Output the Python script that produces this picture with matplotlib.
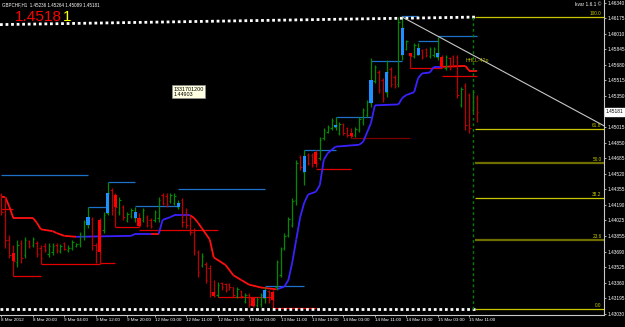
import matplotlib
matplotlib.use("Agg")
import matplotlib.pyplot as plt
from matplotlib.patches import Rectangle
from matplotlib import font_manager

# ---- data (GBPCHF H1, 8-15 Mar 2012) ----
opens = [1.4430, 1.4419, 1.4382, 1.4368, 1.4358, 1.4378, 1.4366, 1.4381, 1.4376, 1.4378,
         1.4373, 1.4375, 1.4367, 1.4369, 1.4376, 1.4370, 1.4378, 1.4371, 1.4373, 1.4375,
         1.4377, 1.4386, 1.4398, 1.4404, 1.4376, 1.4403, 1.4392, 1.4410, 1.4435, 1.4430,
         1.4411, 1.4417, 1.4403, 1.4407, 1.4405, 1.4405, 1.4403, 1.4406, 1.4403, 1.4403,
         1.4405, 1.4430, 1.4428, 1.4423, 1.4421, 1.4417, 1.4424, 1.4411, 1.4405, 1.4390,
         1.4369, 1.4355, 1.4356, 1.4352, 1.4326, 1.4323, 1.4336, 1.4335, 1.4335, 1.4331,
         1.4322, 1.4327, 1.4317, 1.4323, 1.4320, 1.4312, 1.4313, 1.4320, 1.4327, 1.4326,
         1.4331, 1.4344, 1.4373, 1.4387, 1.4398, 1.4424, 1.4470, 1.4454, 1.4472, 1.4472,
         1.4475, 1.4469, 1.4490, 1.4497, 1.4501, 1.4502, 1.4496, 1.4505, 1.4501, 1.4496,
         1.4493, 1.4499, 1.4507, 1.4515, 1.4528, 1.4551, 1.4560, 1.4552, 1.4539, 1.4564,
         1.4555, 1.4548, 1.4579, 1.4585, 1.4581, 1.4578, 1.4579, 1.4584, 1.4585, 1.4578,
         1.4579, 1.4577, 1.4577, 1.4565, 1.4575, 1.4578, 1.4577, 1.4525, 1.4546, 1.4536,
         1.4520, 1.4533]
highs = [1.4432, 1.4427, 1.4387, 1.4376, 1.4382, 1.4382, 1.4385, 1.4382, 1.4385, 1.4381,
         1.4376, 1.4378, 1.4378, 1.4378, 1.4378, 1.4377, 1.4379, 1.4376, 1.4382, 1.4378,
         1.4390, 1.4403, 1.4417, 1.4406, 1.4378, 1.4405, 1.4411, 1.4443, 1.4437, 1.4432,
         1.4427, 1.4419, 1.4411, 1.4416, 1.4417, 1.4410, 1.4416, 1.4408, 1.4405, 1.4414,
         1.4427, 1.4432, 1.4432, 1.4432, 1.4432, 1.4424, 1.4426, 1.4416, 1.4408, 1.4394,
         1.4371, 1.4368, 1.4358, 1.4355, 1.4339, 1.4337, 1.4337, 1.4336, 1.4336, 1.4332,
         1.4332, 1.4328, 1.4325, 1.4325, 1.4321, 1.4321, 1.4325, 1.4332, 1.4328, 1.4328,
         1.4360, 1.4374, 1.4389, 1.4406, 1.4426, 1.4467, 1.4472, 1.4477, 1.4474, 1.4474,
         1.4477, 1.4491, 1.4501, 1.4504, 1.4511, 1.4513, 1.4507, 1.4506, 1.4502, 1.4501,
         1.4502, 1.4513, 1.4522, 1.4531, 1.4575, 1.4568, 1.4563, 1.4554, 1.4573, 1.4566,
         1.4557, 1.4619, 1.4619, 1.4595, 1.4581, 1.4591, 1.4591, 1.4585, 1.4586, 1.4587,
         1.4587, 1.4598, 1.4579, 1.4579, 1.4577, 1.4579, 1.4579, 1.4545, 1.4549, 1.4538,
         1.4541, 1.4536]
lows = [1.4408, 1.4373, 1.4362, 1.4343, 1.4353, 1.4357, 1.4362, 1.4373, 1.4374, 1.4363,
        1.4356, 1.4369, 1.4363, 1.4366, 1.4368, 1.4368, 1.4371, 1.4369, 1.4371, 1.4374,
        1.4374, 1.4382, 1.4394, 1.4371, 1.4357, 1.4356, 1.4389, 1.4408, 1.4408, 1.4395,
        1.4408, 1.4403, 1.4401, 1.4405, 1.4401, 1.4395, 1.4401, 1.4395, 1.4394, 1.4401,
        1.4401, 1.4419, 1.4417, 1.4421, 1.4419, 1.4415, 1.4395, 1.4394, 1.4387, 1.4366,
        1.4342, 1.4353, 1.4336, 1.4321, 1.4321, 1.4321, 1.4328, 1.4326, 1.4328, 1.4321,
        1.4320, 1.4320, 1.4314, 1.4310, 1.4310, 1.4310, 1.4310, 1.4314, 1.4314, 1.4308,
        1.4328, 1.4342, 1.4371, 1.4385, 1.4395, 1.4419, 1.4456, 1.4440, 1.4461, 1.4459,
        1.4459, 1.4467, 1.4488, 1.4496, 1.4499, 1.4499, 1.4493, 1.4493, 1.4491, 1.4490,
        1.4491, 1.4497, 1.4504, 1.4513, 1.4523, 1.4549, 1.4538, 1.4529, 1.4534, 1.4545,
        1.4543, 1.4545, 1.4573, 1.4584, 1.4565, 1.4575, 1.4579, 1.4574, 1.4577, 1.4575,
        1.4577, 1.4573, 1.4565, 1.4563, 1.4563, 1.4566, 1.4533, 1.4523, 1.4499, 1.4496,
        1.4518, 1.4507]
closes = [1.4411, 1.4382, 1.4366, 1.4359, 1.4376, 1.4362, 1.4382, 1.4375, 1.4383, 1.4367,
          1.4362, 1.4371, 1.4375, 1.4375, 1.4371, 1.4375, 1.4372, 1.4373, 1.4379, 1.4377,
          1.4388, 1.4401, 1.4406, 1.4376, 1.4371, 1.4369, 1.4408, 1.4432, 1.4414, 1.4417,
          1.4424, 1.4406, 1.4409, 1.4414, 1.4411, 1.4396, 1.4414, 1.4398, 1.4396, 1.4411,
          1.4424, 1.4421, 1.4420, 1.4430, 1.4428, 1.4421, 1.4401, 1.4398, 1.4390, 1.4371,
          1.4347, 1.4365, 1.4339, 1.4326, 1.4322, 1.4334, 1.4331, 1.4328, 1.4331, 1.4323,
          1.4329, 1.4322, 1.4323, 1.4313, 1.4311, 1.4319, 1.4323, 1.4328, 1.4318, 1.4318,
          1.4358, 1.4372, 1.4386, 1.4404, 1.4423, 1.4464, 1.4459, 1.4471, 1.4464, 1.4461,
          1.4462, 1.4488, 1.4499, 1.4502, 1.4509, 1.4504, 1.4505, 1.4496, 1.4493, 1.4492,
          1.4500, 1.4510, 1.4520, 1.4529, 1.4552, 1.4566, 1.4541, 1.4533, 1.4560, 1.4548,
          1.4546, 1.4614, 1.4607, 1.4593, 1.4578, 1.4589, 1.4586, 1.4577, 1.4579, 1.4585,
          1.4585, 1.4581, 1.4566, 1.4577, 1.4565, 1.4568, 1.4536, 1.4542, 1.4504, 1.4501,
          1.4539, 1.4518]

# bars drawn as fat candle bodies
body_idx = [3, 22, 25, 27, 29, 34, 35, 45, 54, 64, 67, 69, 77, 80, 85, 89, 94, 98,
            102, 104, 106, 111, 112]

# trailing stop line, breakpoints (bar index, price), up = segment drawn blue
trail_x = [0, 1, 2, 3, 8, 9, 10, 13, 14, 16, 19, 33, 34, 38, 40, 41, 43, 44, 48,
           49, 50, 51, 53, 54, 57, 59, 61, 63, 66, 70, 72, 73, 74, 75, 76, 77, 78,
           80, 81, 82, 83, 85, 91, 92, 94, 95, 101, 102, 103, 105, 106, 107, 109,
           110, 112, 118, 119, 121]
trail_y = [1.4427, 1.4427, 1.4417, 1.4405, 1.4405, 1.4400, 1.4393, 1.4391, 1.4389,
           1.4386, 1.4385, 1.4386, 1.4388, 1.4388, 1.4388, 1.4403, 1.4406, 1.4408,
           1.4408, 1.4405, 1.4400, 1.4394, 1.4382, 1.4363, 1.4355, 1.4344, 1.4339,
           1.4334, 1.4331, 1.4329, 1.4332, 1.4339, 1.4358, 1.4382, 1.4406, 1.4421,
           1.4430, 1.4433, 1.4440, 1.4467, 1.4474, 1.4481, 1.4483, 1.4486, 1.4506,
           1.4525, 1.4526, 1.4533, 1.4536, 1.4539, 1.4554, 1.4559, 1.4560, 1.4566,
           1.4566, 1.4567, 1.4562, 1.4562]
trail_up = [0] * 10 + [1] * 3 + [0] + [1] * 4 + [0] * 11 + [1] * 25 + [0] * 3

# fractal levels
res_start = [0, 22, 27, 34, 45, 67, 77, 85, 94, 102, 106, 111]
res_end = [22, 27, 34, 45, 67, 77, 85, 94, 102, 106, 111, 121]
res_price = [1.4451, 1.4417, 1.4443, 1.4418, 1.4436, 1.4333, 1.4477, 1.4513,
             1.4572, 1.4620, 1.4594, 1.4599]
sup_start = [0, 3, 10, 25, 29, 35, 55, 69, 80, 89, 104, 112]
sup_end = [3, 10, 25, 29, 35, 55, 69, 80, 89, 104, 112, 121]
sup_price = [1.4415, 1.4343, 1.4356, 1.4357, 1.4395, 1.4392, 1.4321, 1.4309,
             1.4457, 1.4490, 1.4565, 1.4556]

fib_ratios = [100.0, 61.8, 50.0, 38.2, 23.6, 0.0]
fib_start = 120.5

# dotted range lines (upper one slopes slightly)
top_dot_x = [-0.38, 120.5]
top_dot_y = [1.4611, 1.4619]
low_dot_x = [-0.38, 120.5]
low_dot_y = [1.4308, 1.4308]

trend_x = [102, 137]
trend_y = [1.4619, 1.4540]

price_ticks = [1.46340, 1.46175, 1.46010, 1.45845, 1.45680, 1.45515, 1.45350,
               1.45015, 1.44850, 1.44685, 1.44520, 1.44355, 1.44190, 1.44025,
               1.43855, 1.43690, 1.43525, 1.43360, 1.43195, 1.43030]
time_idx = [0, 8, 16, 24, 32, 39, 47, 55, 63, 71, 79, 87, 95, 103, 111, 119]
time_labels = ["8 Mar 2012", "8 Mar 20:00", "9 Mar 04:00", "9 Mar 12:00",
               "9 Mar 20:00", "12 Mar 03:00", "12 Mar 11:00", "12 Mar 19:00",
               "13 Mar 03:00", "13 Mar 11:00", "13 Mar 19:00", "14 Mar 03:00",
               "14 Mar 11:00", "14 Mar 19:00", "15 Mar 03:00", "15 Mar 11:00"]
header = "GBPCHF,H1  1.45236 1.45264 1.45089 1.45181"
last_price = 1.45181
tip_lines = ["1331701200", "1.44903"]

# ---- style ----
names = {f.name for f in font_manager.fontManager.ttflist}
SMALL = 'Liberation Sans Narrow' if 'Liberation Sans Narrow' in names else 'Liberation Sans'
UP, DN = '#008a00', '#c00000'

fig = plt.figure(figsize=(6.25, 3.27), dpi=100, facecolor='black')
renderer = fig.canvas.get_renderer()


def fit(s, width_px, family=SMALL):
    # font size that makes string s about width_px pixels wide
    t = fig.text(0, 0, s, fontsize=10, family=family)
    w = t.get_window_extent(renderer=renderer).width
    t.remove()
    return 10 * width_px / w


FS_Y = fit("1.46340", 17)
FS_X = fit("8 Mar 20:00", 24)
FS_HEAD = fit(header, 98)
FS_FIB = fit("100.0", 12)
FS_TIP = fit("1331701200", 30)
FS_HH = fit("HHLL-42p", 24)
FS_BIG = fit("1.4518", 47, 'Liberation Sans')

ax = fig.add_axes([0, 12 / 327, 604 / 625, 315 / 327], facecolor='black')
XMAX = 153.3
ax.set_xlim(-0.38, XMAX)
ax.set_ylim(1.43017, 1.46372)

# levels
for s, e, p in zip(res_start, res_end, res_price):
    ax.hlines(p, s, e, color='#1e70c8', lw=0.9, zorder=2)
for s, e, p in zip(sup_start, sup_end, sup_price):
    c = '#7a0000' if 1.4485 < p < 1.4495 else '#e00000'
    ax.hlines(p, s, e, color=c, lw=0.9, zorder=2)

# trailing line
for k in range(len(trail_x) - 1):
    ax.plot(trail_x[k:k + 2], trail_y[k:k + 2], lw=1.3, solid_capstyle='butt',
            color='#3a22ff' if trail_up[k] else '#ff1010', zorder=3)

# OHLC bars
for i, (o, h, l, c) in enumerate(zip(opens, highs, lows, closes)):
    col = UP if c >= o else DN
    ax.vlines(i, l, h, color=col, lw=0.9, zorder=4)
    ax.hlines(o, i - 0.35, i, color=col, lw=0.8, zorder=4)
    ax.hlines(c, i, i + 0.35, color=col, lw=0.8, zorder=4)
for i in body_idx:
    o, c = opens[i], closes[i]
    col = '#1e90ff' if c >= o else '#ff0000'
    ax.add_patch(Rectangle((i - 0.4, min(o, c)), 0.8, max(abs(c - o), 0.00008),
                           facecolor=col, edgecolor='none', zorder=5))

# fibonacci
fib_hi, fib_lo = max(highs), min(lows)
for r in fib_ratios:
    p = fib_lo + (fib_hi - fib_lo) * r / 100
    dark = r in (50.0, 23.6)
    ax.hlines(p, fib_start, XMAX, color='#6e6e00' if dark else '#c8c800',
              lw=1.6 if dark else 0.9, zorder=2)
    ax.text(XMAX - 0.6, p + 0.00008, f"{r:.1f}", color='#c8c800', fontsize=FS_FIB,
            family=SMALL, ha='right', va='bottom', zorder=6)
for xs, ys in ((top_dot_x, top_dot_y), (low_dot_x, low_dot_y)):
    ax.plot(xs, ys, color='white', lw=2, linestyle=(0, (1, 1)), zorder=6)
ax.vlines(120, fib_lo, fib_hi, color='#008000', lw=1, linestyles=(0, (2, 2)), zorder=6)

# trend line ray
slope = (trend_y[1] - trend_y[0]) / (trend_x[1] - trend_x[0])
ax.plot([trend_x[0], XMAX], [trend_y[0], trend_y[0] + slope * (XMAX - trend_x[0])],
        color='#c8c8c8', lw=0.8, zorder=6)

ax.text(118.2, 1.4573, "HHLL-42p", color='#b4b400', fontsize=FS_HH, family=SMALL,
        va='center', ha='left', zorder=7)
ax.text(43.8, 1.4545, "\n".join(tip_lines), color='black', fontsize=FS_TIP,
        family=SMALL, va='top', ha='left', linespacing=1.0, zorder=8,
        bbox=dict(boxstyle='square,pad=0.25', facecolor='#ffffe1', edgecolor='#909090', lw=0.5))

# axes
for side in ('top', 'left'):
    ax.spines[side].set_visible(False)
for side in ('right', 'bottom'):
    ax.spines[side].set_color('#c8c8c8')
    ax.spines[side].set_linewidth(0.8)
ax.yaxis.tick_right()
ax.set_yticks(price_ticks)
ax.set_yticklabels([f"{p:.5f}" for p in price_ticks])
ax.set_xticks(time_idx)
ax.set_xticklabels(time_labels)
ax.tick_params(colors='#c8c8c8', length=1.5, width=0.6, pad=0.8)
ax.tick_params(axis='y', labelsize=FS_Y)
ax.tick_params(axis='x', labelsize=FS_X)
for lbl in ax.get_xticklabels():
    lbl.set_ha('left')
    lbl.set_family(SMALL)
    lbl.set_color('white')
for lbl in ax.get_yticklabels():
    lbl.set_family(SMALL)
    lbl.set_color('white')

ax.text(1.003, (last_price - 1.43017) / (1.46372 - 1.43017), f"{last_price:.5f}",
        transform=ax.transAxes, color='black', fontsize=FS_Y, family=SMALL,
        ha='left', va='center', zorder=9,
        bbox=dict(boxstyle='square,pad=0.25', facecolor='white', edgecolor='white'))

fig.text(2 / 625, 1 - 5 / 327, header, color='white', fontsize=FS_HEAD, family=SMALL,
         ha='left', va='center')
fig.text(575 / 625, 1 - 5 / 327, "kvar 1.6.1 \u00a9", color='white',
         fontsize=fit("kvar 1.6.1 \u00a9", 26), family=SMALL, ha='left', va='center')
big = fig.text(15 / 625, 1 - 21 / 327, "1.4518", color='#ff0000', fontsize=FS_BIG,
               family='Liberation Sans', ha='left', va='baseline')
right_px = big.get_window_extent(renderer=renderer).x1
fig.text(right_px / 625 + 0.5 / 625, 1 - 21 / 327, "1", color='#ffff00', fontsize=FS_BIG,
         family='Liberation Sans', ha='left', va='baseline')

fig.savefig("out.png", dpi=100, facecolor='black')
